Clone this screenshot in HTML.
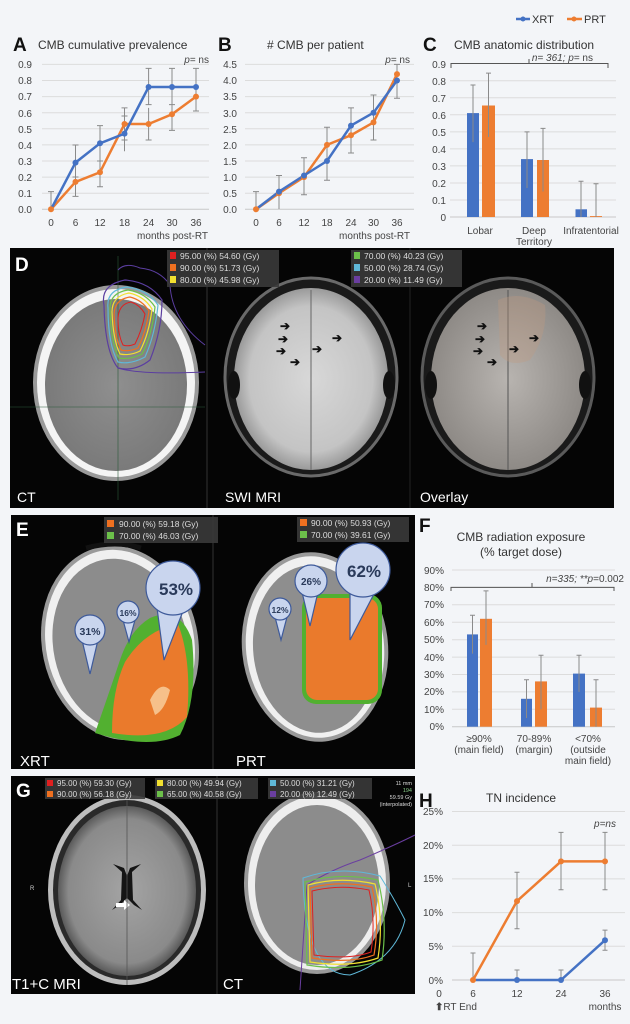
<!DOCTYPE html>
<html><head><meta charset="utf-8"><style>
html,body{margin:0;padding:0;background:#f3f5f8;}
svg{display:block;font-family:"Liberation Sans",Arial,sans-serif;}
</style></head><body>
<svg width="630" height="1024" viewBox="0 0 630 1024" xmlns="http://www.w3.org/2000/svg">
<defs>
<radialGradient id="ctb" cx="50%" cy="50%" r="50%"><stop offset="0" stop-color="#8f8f8f"/><stop offset="1" stop-color="#7a7a7a"/></radialGradient>
<radialGradient id="swi" cx="50%" cy="50%" r="50%"><stop offset="0" stop-color="#d8d8d8"/><stop offset="0.8" stop-color="#c4c4c4"/><stop offset="1" stop-color="#9a9a9a"/></radialGradient>
<radialGradient id="ovl" cx="50%" cy="50%" r="50%"><stop offset="0" stop-color="#b8b4b0"/><stop offset="1" stop-color="#8e8a86"/></radialGradient>
<radialGradient id="t1" cx="50%" cy="50%" r="50%"><stop offset="0" stop-color="#a4a4a4"/><stop offset="0.85" stop-color="#8a8a8a"/><stop offset="1" stop-color="#5a5a5a"/></radialGradient>
</defs>
<rect width="630" height="1024" fill="#f3f5f8"/>

<!-- Legend -->
<line x1="516" y1="19" x2="530" y2="19" stroke="#4472c4" stroke-width="2.5"/><circle cx="523" cy="19" r="2.5" fill="#4472c4"/>
<text x="532" y="23" font-size="11" fill="#333">XRT</text>
<line x1="567" y1="19" x2="582" y2="19" stroke="#ed7d31" stroke-width="2.5"/><circle cx="574" cy="19" r="2.5" fill="#ed7d31"/>
<text x="584" y="23" font-size="11" fill="#333">PRT</text>

<!-- Chart A -->
<text x="13" y="51" font-size="19" font-weight="bold" fill="#111">A</text>
<text x="38" y="49" font-size="12" fill="#333">CMB cumulative prevalence</text>
<g stroke="#dcdcdc" stroke-width="1">
<line x1="42" x2="209" y1="193.2" y2="193.2"/><line x1="42" x2="209" y1="177.1" y2="177.1"/><line x1="42" x2="209" y1="161" y2="161"/><line x1="42" x2="209" y1="144.9" y2="144.9"/><line x1="42" x2="209" y1="128.8" y2="128.8"/><line x1="42" x2="209" y1="112.7" y2="112.7"/><line x1="42" x2="209" y1="96.6" y2="96.6"/><line x1="42" x2="209" y1="80.5" y2="80.5"/><line x1="42" x2="209" y1="64.4" y2="64.4"/>
</g>
<line x1="42" x2="209" y1="209.3" y2="209.3" stroke="#c8c8c8"/>
<g font-size="10" fill="#444" text-anchor="end">
<text x="32" y="213">0.0</text><text x="32" y="197">0.1</text><text x="32" y="181">0.2</text><text x="32" y="165">0.3</text><text x="32" y="149">0.4</text><text x="32" y="133">0.5</text><text x="32" y="117">0.6</text><text x="32" y="100">0.7</text><text x="32" y="84">0.8</text><text x="32" y="68">0.9</text>
</g>
<g font-size="10" fill="#444" text-anchor="middle">
<text x="51" y="226">0</text><text x="75.5" y="226">6</text><text x="100" y="226">12</text><text x="124.5" y="226">18</text><text x="148.6" y="226">24</text><text x="172" y="226">30</text><text x="196" y="226">36</text>
</g>
<text x="208" y="239" font-size="10" fill="#444" text-anchor="end">months post-RT</text>
<text x="209" y="63" font-size="10" fill="#444" text-anchor="end"><tspan font-style="italic">p</tspan>= ns</text>
<g stroke="#8a8a8a" stroke-width="1">
<path d="M51 209V191.6M48 191.6h6M75.5 177V145M72.5 145h6M72.5 177h6M100 161V125.6M97 125.6h6M97 161h6M124.5 151.3V116M121.5 116h6M148.6 104.6V68.4M145.6 68.4h6M145.6 104.6h6M172 104.6V68.4M169 68.4h6M169 104.6h6M196 104.6V68.4M193 68.4h6"/>
<path d="M75.5 196.4V165.8M72.5 196.4h6M100 186.8V156.2M97 186.8h6M124.5 140V107.9M121.5 107.9h6M121.5 140h6M148.6 140V107.9M145.6 140h6M172 130.4V99.8M169 130.4h6M196 111V80.5M193 111h6"/>
</g>
<polyline points="51,209.3 75.5,181.9 100,172.3 124.5,124 148.6,124 172,114.3 196,96.6" fill="none" stroke="#ed7d31" stroke-width="2.5"/>
<polyline points="51,209.3 75.5,162.6 100,143.3 124.5,133.6 148.6,87 172,87 196,87" fill="none" stroke="#4472c4" stroke-width="2.5"/>
<g fill="#ed7d31"><circle cx="51" cy="209.3" r="3"/><circle cx="75.5" cy="181.9" r="3"/><circle cx="100" cy="172.3" r="3"/><circle cx="124.5" cy="124" r="3"/><circle cx="148.6" cy="124" r="3"/><circle cx="172" cy="114.3" r="3"/><circle cx="196" cy="96.6" r="3"/></g>
<g fill="#4472c4"><circle cx="75.5" cy="162.6" r="3"/><circle cx="100" cy="143.3" r="3"/><circle cx="124.5" cy="133.6" r="3"/><circle cx="148.6" cy="87" r="3"/><circle cx="172" cy="87" r="3"/><circle cx="196" cy="87" r="3"/></g>

<!-- Chart B -->
<text x="218" y="51" font-size="19" font-weight="bold" fill="#111">B</text>
<text x="267" y="49" font-size="12" fill="#333"># CMB per patient</text>
<g stroke="#dcdcdc" stroke-width="1">
<line x1="245" x2="414" y1="193.2" y2="193.2"/><line x1="245" x2="414" y1="177.1" y2="177.1"/><line x1="245" x2="414" y1="161" y2="161"/><line x1="245" x2="414" y1="144.9" y2="144.9"/><line x1="245" x2="414" y1="128.8" y2="128.8"/><line x1="245" x2="414" y1="112.7" y2="112.7"/><line x1="245" x2="414" y1="96.6" y2="96.6"/><line x1="245" x2="414" y1="80.5" y2="80.5"/><line x1="245" x2="414" y1="64.4" y2="64.4"/>
</g>
<line x1="245" x2="414" y1="209.3" y2="209.3" stroke="#c8c8c8"/>
<g font-size="10" fill="#444" text-anchor="end">
<text x="237" y="213">0.0</text><text x="237" y="197">0.5</text><text x="237" y="181">1.0</text><text x="237" y="165">1.5</text><text x="237" y="149">2.0</text><text x="237" y="133">2.5</text><text x="237" y="117">3.0</text><text x="237" y="100">3.5</text><text x="237" y="84">4.0</text><text x="237" y="68">4.5</text>
</g>
<g font-size="10" fill="#444" text-anchor="middle">
<text x="256" y="226">0</text><text x="279" y="226">6</text><text x="304" y="226">12</text><text x="327" y="226">18</text><text x="351" y="226">24</text><text x="373.5" y="226">30</text><text x="397" y="226">36</text>
</g>
<text x="410" y="239" font-size="10" fill="#444" text-anchor="end">months post-RT</text>
<text x="410" y="63" font-size="10" fill="#444" text-anchor="end"><tspan font-style="italic">p</tspan>= ns</text>
<g stroke="#8a8a8a" stroke-width="1">
<path d="M256 209V191.6M253 191.6h6M279 209V175.5M276 175.5h6M304 194.8V157.8M301 157.8h6M301 194.8h6M327 180.3V127.2M324 127.2h6M324 180.3h6M351 153V107.9M348 107.9h6M348 153h6M373.5 140V95M370.5 95h6M370.5 140h6M397 98.2V64.4M394 64.4h6M394 98.2h6"/>
</g>
<polyline points="256,209.3 279,193.2 304,177.1 327,144.9 351,135.2 373.5,122.4 397,74.1" fill="none" stroke="#ed7d31" stroke-width="2.5"/>
<polyline points="256,209.3 279,191.6 304,175.5 327,161 351,125.6 373.5,112.7 397,80.5" fill="none" stroke="#4472c4" stroke-width="2.5"/>
<g fill="#ed7d31"><circle cx="256" cy="209.3" r="3"/><circle cx="279" cy="193.2" r="3"/><circle cx="304" cy="177.1" r="3"/><circle cx="327" cy="144.9" r="3"/><circle cx="351" cy="135.2" r="3"/><circle cx="373.5" cy="122.4" r="3"/><circle cx="397" cy="74.1" r="3"/></g>
<g fill="#4472c4"><circle cx="279" cy="191.6" r="3"/><circle cx="304" cy="175.5" r="3"/><circle cx="327" cy="161" r="3"/><circle cx="351" cy="125.6" r="3"/><circle cx="373.5" cy="112.7" r="3"/><circle cx="397" cy="80.5" r="3"/></g>

<!-- Chart C -->
<text x="423" y="51" font-size="19" font-weight="bold" fill="#111">C</text>
<text x="454" y="49" font-size="12" fill="#333">CMB anatomic distribution</text>
<g stroke="#dcdcdc" stroke-width="1">
<line x1="450" x2="616" y1="200" y2="200"/><line x1="450" x2="616" y1="183" y2="183"/><line x1="450" x2="616" y1="165.9" y2="165.9"/><line x1="450" x2="616" y1="148.9" y2="148.9"/><line x1="450" x2="616" y1="131.9" y2="131.9"/><line x1="450" x2="616" y1="114.8" y2="114.8"/><line x1="450" x2="616" y1="97.8" y2="97.8"/><line x1="450" x2="616" y1="80.8" y2="80.8"/>
</g>
<line x1="450" x2="616" y1="217" y2="217" stroke="#c8c8c8"/>
<g font-size="10" fill="#444" text-anchor="end">
<text x="446" y="221">0</text><text x="446" y="204">0.1</text><text x="446" y="187">0.2</text><text x="446" y="170">0.3</text><text x="446" y="153">0.4</text><text x="446" y="136">0.5</text><text x="446" y="119">0.6</text><text x="446" y="102">0.7</text><text x="446" y="85">0.8</text><text x="446" y="68">0.9</text>
</g>
<path d="M451 68V63.5H608V68M529 63.5V59" fill="none" stroke="#555" stroke-width="1"/>
<text x="593" y="61" font-size="10" fill="#444" text-anchor="end" font-style="italic">n= 361; p<tspan font-style="normal">= ns</tspan></text>
<g fill="#4472c4"><rect x="467" y="113.1" width="12" height="103.9"/><rect x="521" y="159.1" width="12" height="57.9"/><rect x="575.5" y="209.3" width="11.5" height="7.7"/></g>
<g fill="#ed7d31"><rect x="482" y="105.5" width="13" height="111.5"/><rect x="537" y="160" width="12" height="57"/><rect x="590" y="216.1" width="12" height="0.9"/></g>
<g stroke="#8a8a8a" stroke-width="1">
<path d="M473 142.1V85M470.5 85h5M488.5 137V73.1M486 73.1h5M527 188V131.9M524.5 131.9h5M543 191.5V128.4M540.5 128.4h5M581 217V181.2M578.5 181.2h5M596 217V183.8M593.5 183.8h5"/>
</g>
<g font-size="10" fill="#444" text-anchor="middle">
<text x="480" y="234">Lobar</text><text x="534" y="234">Deep</text><text x="534" y="245">Territory</text><text x="591" y="234">Infratentorial</text>
</g>

<!-- Panel D -->
<rect x="10" y="248" width="604" height="260" fill="#050505"/>
<line x1="207" y1="248" x2="207" y2="508" stroke="#333"/>
<line x1="410" y1="248" x2="410" y2="508" stroke="#222"/>
<!-- CT -->
<ellipse cx="116" cy="383" rx="83" ry="98" fill="#9a9a9a"/>
<ellipse cx="116" cy="383" rx="79" ry="94" fill="#f4f4f4"/>
<ellipse cx="116" cy="385" rx="71" ry="86" fill="url(#ctb)"/>
<line x1="10" y1="407" x2="205" y2="407" stroke="#2a5a3a" stroke-width="0.6"/>
<path d="M118 256V500" stroke="#2a5a3a" stroke-width="0.6"/>
<path d="M104 305 Q100 285 125 280 Q150 282 162 300 Q162 330 150 360 Q135 372 118 368 Q105 352 104 305Z" fill="none" stroke="#5b3ea0" stroke-width="1.2"/>
<path d="M108 308 Q106 290 127 287 Q148 290 158 305 Q155 335 145 357 Q130 365 118 362 Q108 345 108 308Z" fill="none" stroke="#5fb8d8" stroke-width="1.2"/>
<path d="M110 310 Q109 293 128 290 Q146 293 155 307 Q152 335 142 354 Q130 360 119 358 Q111 343 110 310Z" fill="none" stroke="#6cc04a" stroke-width="1.2"/>
<path d="M112 312 Q112 296 129 293 Q144 296 152 309 Q149 334 140 351 Q130 356 120 354 Q113 340 112 312Z" fill="none" stroke="#f2e030" stroke-width="1.2"/>
<path d="M114 314 Q115 299 130 297 Q142 300 149 311 Q146 332 138 348 Q129 352 121 350 Q115 338 114 314Z" fill="none" stroke="#ef7020" stroke-width="1.2"/>
<path d="M118 318 Q119 304 131 302 Q140 305 145 314 Q142 330 135 344 Q128 347 123 345 Q118 335 118 318Z" fill="none" stroke="#e02020" stroke-width="1"/>
<path d="M118 270 Q125 262 140 268 Q160 270 170 285 Q172 320 205 345 M118 368 Q140 375 205 372" fill="none" stroke="#5b3ea0" stroke-width="1"/>
<!-- SWI -->
<ellipse cx="311" cy="377" rx="86" ry="99" fill="#1a1a1a" stroke="#6a6a6a" stroke-width="3"/>
<ellipse cx="311" cy="379" rx="77" ry="91" fill="url(#swi)"/>
<line x1="311" y1="290" x2="311" y2="470" stroke="#666" stroke-width="1"/>
<ellipse cx="234" cy="385" rx="6" ry="14" fill="#111"/><ellipse cx="389" cy="385" rx="6" ry="14" fill="#111"/>
<g fill="#111" font-size="12" font-weight="bold">
<text x="280" y="330">➔</text><text x="278" y="343">➔</text><text x="276" y="355">➔</text><text x="290" y="366">➔</text><text x="332" y="342">➔</text><text x="312" y="353">➔</text>
</g>
<!-- Overlay -->
<ellipse cx="508" cy="377" rx="86" ry="99" fill="#1a1a1a" stroke="#5a5a5a" stroke-width="3"/>
<ellipse cx="508" cy="379" rx="77" ry="91" fill="url(#ovl)"/>
<line x1="508" y1="290" x2="508" y2="470" stroke="#555" stroke-width="1"/>
<path d="M498 300 Q520 290 545 305 Q548 335 530 360 Q510 368 500 355Z" fill="#c09a80" opacity="0.35"/>
<ellipse cx="431" cy="385" rx="6" ry="14" fill="#111"/><ellipse cx="585" cy="385" rx="6" ry="14" fill="#111"/>
<g fill="#111" font-size="12" font-weight="bold">
<text x="477" y="330">➔</text><text x="475" y="343">➔</text><text x="473" y="355">➔</text><text x="487" y="366">➔</text><text x="529" y="342">➔</text><text x="509" y="353">➔</text>
</g>
<text x="15" y="271" font-size="19" font-weight="bold" fill="#fff">D</text>
<g font-size="14" fill="#fff"><text x="17" y="502">CT</text><text x="225" y="502">SWI MRI</text><text x="420" y="502">Overlay</text></g>
<rect x="167" y="250" width="112" height="37" fill="#3a3a3a" opacity="0.9"/>
<g font-size="8.5" fill="#ddd">
<rect x="170" y="252" width="6" height="7" fill="#e02020"/><text x="180" y="259">95.00 (%)  54.60 (Gy)</text>
<rect x="170" y="264" width="6" height="7" fill="#ef7020"/><text x="180" y="271">90.00 (%)  51.73 (Gy)</text>
<rect x="170" y="276" width="6" height="7" fill="#f2e030"/><text x="180" y="283">80.00 (%)  45.98 (Gy)</text>
</g>
<rect x="351" y="250" width="111" height="37" fill="#3a3a3a" opacity="0.9"/>
<g font-size="8.5" fill="#ddd">
<rect x="354" y="252" width="6" height="7" fill="#6cc04a"/><text x="364" y="259">70.00 (%)  40.23 (Gy)</text>
<rect x="354" y="264" width="6" height="7" fill="#5fb8d8"/><text x="364" y="271">50.00 (%)  28.74 (Gy)</text>
<rect x="354" y="276" width="6" height="7" fill="#6a3ea0"/><text x="364" y="283">20.00 (%)  11.49 (Gy)</text>
</g>

<!-- Panel E -->
<rect x="11" y="515" width="404" height="254" fill="#050505"/>
<line x1="213" y1="515" x2="213" y2="769" stroke="#333"/>
<g transform="rotate(-12 120 643)">
<ellipse cx="120" cy="643" rx="78" ry="98" fill="#9a9a9a"/>
<ellipse cx="120" cy="643" rx="74" ry="94" fill="#f0f0f0"/>
<ellipse cx="120" cy="645" rx="67" ry="87" fill="#8c8c8c"/>
</g>
<path d="M95 733 Q110 690 120 660 Q130 630 150 618 Q180 605 192 640 Q198 700 180 735 Q150 750 95 733Z" fill="#52b030"/>
<path d="M112 733 Q112 690 125 662 Q145 630 178 624 Q192 660 187 717 Q165 742 112 733Z" fill="#ea7a2c"/>
<path d="M150 700 Q160 680 170 690 Q165 710 155 715Z" fill="#f6c08a"/>
<path d="M86 548 q30 -8 55 0" stroke="#111" stroke-width="5" fill="none"/>
<g transform="rotate(-6 315 647)">
<ellipse cx="315" cy="647" rx="73" ry="95" fill="#9a9a9a"/>
<ellipse cx="315" cy="647" rx="69" ry="91" fill="#f0f0f0"/>
<ellipse cx="315" cy="649" rx="62" ry="84" fill="#8e8e8e"/>
</g>
<rect x="302" y="594" width="80" height="110" rx="14" fill="#52b030"/>
<rect x="306" y="598" width="72" height="102" rx="11" fill="#ea7a2c"/>
<!-- bubbles -->
<g fill="#c9d5ee" stroke="#3e5a9a" stroke-width="1.2">
<path d="M157 608 L164 660 L185 606Z"/><circle cx="173" cy="588" r="27"/>
<path d="M123 620 L129 642 L135 620Z"/><circle cx="128" cy="612" r="11"/>
<path d="M82 640 L90 674 L98 640Z"/><circle cx="90" cy="630" r="15"/>
<path d="M350 590 L350 640 L375 592Z"/><circle cx="363" cy="570" r="27"/>
<path d="M302 592 L310 626 L318 592Z"/><circle cx="311" cy="581" r="16"/>
<path d="M275 617 L281 640 L287 617Z"/><circle cx="280" cy="609" r="11"/>
</g>
<g fill="#2a3a5a" font-weight="bold" text-anchor="middle">
<text x="176" y="595" font-size="17">53%</text><text x="128" y="616" font-size="8.5">16%</text><text x="90" y="635" font-size="10.5">31%</text>
<text x="364" y="577" font-size="17">62%</text><text x="311" y="585" font-size="10">26%</text><text x="280" y="613" font-size="8.5">12%</text>
</g>
<text x="16" y="536" font-size="19" font-weight="bold" fill="#fff">E</text>
<g font-size="15" fill="#fff"><text x="20" y="766">XRT</text><text x="236" y="766">PRT</text></g>
<rect x="104" y="517" width="114" height="26" fill="#3a3a3a" opacity="0.9"/>
<g font-size="8.5" fill="#ddd">
<rect x="107" y="520" width="7" height="7" fill="#ef7020"/><text x="119" y="527">90.00 (%)  59.18 (Gy)</text>
<rect x="107" y="532" width="7" height="7" fill="#6cc04a"/><text x="119" y="539">70.00 (%)  46.03 (Gy)</text>
</g>
<rect x="297" y="517" width="112" height="25" fill="#3a3a3a" opacity="0.9"/>
<g font-size="8.5" fill="#ddd">
<rect x="300" y="519" width="7" height="7" fill="#ef7020"/><text x="311" y="526">90.00 (%)  50.93 (Gy)</text>
<rect x="300" y="531" width="7" height="7" fill="#6cc04a"/><text x="311" y="538">70.00 (%)  39.61 (Gy)</text>
</g>

<!-- Panel G -->
<rect x="11" y="776" width="404" height="218" fill="#050505"/>
<line x1="217" y1="776" x2="217" y2="994" stroke="#333"/>
<ellipse cx="127" cy="890" rx="79" ry="95" fill="#bdbdbd"/>
<ellipse cx="127" cy="890" rx="74" ry="90" fill="#2a2a2a"/>
<ellipse cx="127" cy="891" rx="69" ry="85" fill="url(#t1)"/>
<path d="M113 864 L122 872 L121 900 L112 910 L120 905 L127 898 L134 905 L142 910 L133 900 L132 872 L141 864 L130 868 L127 876 L124 868Z" fill="#151515"/>
<path d="M116 903 h8 v-3 l6 5 l-6 5 v-3 h-8z" fill="#fff"/>
<line x1="127" y1="800" x2="127" y2="985" stroke="#555" stroke-width="0.8"/>
<ellipse cx="317" cy="883" rx="73" ry="91" fill="#9a9a9a"/>
<ellipse cx="317" cy="883" rx="69" ry="87" fill="#eeeeee"/>
<ellipse cx="317" cy="885" rx="62" ry="80" fill="#8c8c8c"/>
<path d="M300 990 L307 885 Q330 870 360 860 Q395 845 415 835" fill="none" stroke="#6a3ea0" stroke-width="1"/>
<path d="M303 878 Q340 865 380 876 Q395 900 405 920 Q395 960 350 975 Q305 975 303 878Z" fill="none" stroke="#5fb8d8" stroke-width="1"/>
<path d="M305 882 Q340 872 378 880 Q388 920 382 960 Q350 972 307 965Z" fill="none" stroke="#6cc04a" stroke-width="1.2"/>
<path d="M308 885 Q340 876 375 884 Q384 920 378 958 Q350 968 310 962Z" fill="none" stroke="#f2e030" stroke-width="1.2"/>
<path d="M310 888 Q340 880 372 887 Q380 920 374 955 Q350 964 312 958Z" fill="none" stroke="#ef7020" stroke-width="1.2"/>
<path d="M312 891 Q340 884 369 890 Q376 920 371 952 Q350 960 314 955Z" fill="none" stroke="#e02020" stroke-width="1"/>
<text x="16" y="797" font-size="19" font-weight="bold" fill="#fff">G</text>
<g font-size="15" fill="#fff"><text x="12" y="989">T1+C MRI</text><text x="223" y="989">CT</text></g>
<rect x="45" y="778" width="100" height="21" fill="#3a3a3a" opacity="0.9"/>
<rect x="155" y="778" width="103" height="21" fill="#3a3a3a" opacity="0.9"/>
<rect x="268" y="778" width="104" height="21" fill="#3a3a3a" opacity="0.9"/>
<g font-size="8" fill="#ddd">
<rect x="47" y="780" width="6" height="6" fill="#e02020"/><text x="57" y="786">95.00 (%)  59.30 (Gy)</text>
<rect x="47" y="791" width="6" height="6" fill="#ef7020"/><text x="57" y="797">90.00 (%)  56.18 (Gy)</text>
<rect x="157" y="780" width="6" height="6" fill="#f2e030"/><text x="167" y="786">80.00 (%)  49.94 (Gy)</text>
<rect x="157" y="791" width="6" height="6" fill="#6cc04a"/><text x="167" y="797">65.00 (%)  40.58 (Gy)</text>
<rect x="270" y="780" width="6" height="6" fill="#5fb8d8"/><text x="280" y="786">50.00 (%)  31.21 (Gy)</text>
<rect x="270" y="791" width="6" height="6" fill="#6a3ea0"/><text x="280" y="797">20.00 (%)  12.49 (Gy)</text>
</g>
<g font-size="5.5" fill="#ddd" text-anchor="end"><text x="412" y="785">11 mm</text><text x="412" y="792" fill="#8c8">194</text><text x="412" y="799">59.59 Gy</text><text x="412" y="806">(interpolated)</text></g>
<text x="30" y="890" font-size="6" fill="#ccc">R</text><text x="408" y="887" font-size="6" fill="#ccc">L</text>

<!-- Chart F -->
<text x="419" y="532" font-size="19" font-weight="bold" fill="#111">F</text>
<text x="521" y="541" font-size="12" fill="#333" text-anchor="middle">CMB radiation exposure</text>
<text x="521" y="556" font-size="12" fill="#333" text-anchor="middle">(% target dose)</text>
<g stroke="#dcdcdc" stroke-width="1">
<line x1="452" x2="615" y1="709.3" y2="709.3"/><line x1="452" x2="615" y1="691.9" y2="691.9"/><line x1="452" x2="615" y1="674.5" y2="674.5"/><line x1="452" x2="615" y1="657.1" y2="657.1"/><line x1="452" x2="615" y1="639.7" y2="639.7"/><line x1="452" x2="615" y1="622.3" y2="622.3"/><line x1="452" x2="615" y1="604.8" y2="604.8"/><line x1="452" x2="615" y1="587.4" y2="587.4"/><line x1="452" x2="615" y1="570" y2="570"/>
</g>
<line x1="452" x2="615" y1="726.7" y2="726.7" stroke="#c8c8c8"/>
<g font-size="10" fill="#444" text-anchor="end">
<text x="444" y="730">0%</text><text x="444" y="713">10%</text><text x="444" y="695">20%</text><text x="444" y="678">30%</text><text x="444" y="661">40%</text><text x="444" y="643">50%</text><text x="444" y="626">60%</text><text x="444" y="608">70%</text><text x="444" y="591">80%</text><text x="444" y="574">90%</text>
</g>
<path d="M451 591V587.4H614V591M532 587.4V583" fill="none" stroke="#555"/>
<text x="624" y="582" font-size="10" fill="#444" text-anchor="end" font-style="italic">n=335; **p<tspan font-style="normal">=0.002</tspan></text>
<g fill="#4472c4"><rect x="467" y="634.4" width="11" height="92.3"/><rect x="521" y="698.8" width="11" height="27.9"/><rect x="573" y="673.6" width="12" height="53.1"/></g>
<g fill="#ed7d31"><rect x="480" y="618.8" width="12" height="107.9"/><rect x="535" y="681.4" width="12" height="45.3"/><rect x="590" y="707.6" width="12" height="19.1"/></g>
<g stroke="#8a8a8a" stroke-width="1">
<path d="M472.5 653.6V615.3M470 615.3h5M486 644.9V590.9M483.5 590.9h5M526.5 718V679.7M524 679.7h5M541 709.3V655.3M538.5 655.3h5M579 691.9V655.3M576.5 655.3h5M596 726.7V679.7M593.5 679.7h5"/>
</g>
<g font-size="10" fill="#444" text-anchor="middle">
<text x="479" y="742">≥90%</text><text x="479" y="753">(main field)</text>
<text x="534" y="742">70-89%</text><text x="534" y="753">(margin)</text>
<text x="588" y="742">&lt;70%</text><text x="588" y="753">(outside</text><text x="588" y="764">main field)</text>
</g>

<!-- Chart H -->
<text x="419" y="807" font-size="19" font-weight="bold" fill="#111">H</text>
<text x="521" y="802" font-size="12" fill="#333" text-anchor="middle">TN incidence</text>
<g stroke="#dcdcdc" stroke-width="1">
<line x1="452" x2="625" y1="946.3" y2="946.3"/><line x1="452" x2="625" y1="912.6" y2="912.6"/><line x1="452" x2="625" y1="878.9" y2="878.9"/><line x1="452" x2="625" y1="845.2" y2="845.2"/><line x1="452" x2="625" y1="811.5" y2="811.5"/>
</g>
<line x1="452" x2="625" y1="980" y2="980" stroke="#c8c8c8"/>
<g font-size="10" fill="#444" text-anchor="end">
<text x="443" y="984">0%</text><text x="443" y="950">5%</text><text x="443" y="916">10%</text><text x="443" y="882">15%</text><text x="443" y="849">20%</text><text x="443" y="815">25%</text>
</g>
<text x="616" y="827" font-size="10" fill="#444" text-anchor="end" font-style="italic">p=ns</text>
<g stroke="#8a8a8a" stroke-width="1">
<path d="M473 980V953M470.5 953h5M517 928.8V872.2M514.5 872.2h5M514.5 928.8h5M561 889.7V832.4M558.5 832.4h5M558.5 889.7h5M605 889.7V832.4M602.5 832.4h5M602.5 889.7h5"/>
<path d="M517 980V970M514.5 970h5M561 980V970M558.5 970h5M605 950.3V930.1M602.5 930.1h5M602.5 950.3h5"/>
</g>
<polyline points="473,980 517,980 561,980 605,940.2" fill="none" stroke="#4472c4" stroke-width="2.5"/>
<polyline points="473,980 517,901.1 561,861.4 605,861.4" fill="none" stroke="#ed7d31" stroke-width="2.5"/>
<g fill="#4472c4"><circle cx="517" cy="980" r="3"/><circle cx="561" cy="980" r="3"/><circle cx="605" cy="940.2" r="3"/></g>
<g fill="#ed7d31"><circle cx="473" cy="980" r="3"/><circle cx="517" cy="901.1" r="3"/><circle cx="561" cy="861.4" r="3"/><circle cx="605" cy="861.4" r="3"/></g>
<g font-size="10" fill="#444" text-anchor="middle">
<text x="439" y="997">0</text><text x="473" y="997">6</text><text x="517" y="997">12</text><text x="561" y="997">24</text><text x="605" y="997">36</text>
<text x="605" y="1010">months</text>
</g>
<text x="435" y="1010" font-size="10" fill="#444"><tspan font-weight="bold">⬆</tspan>RT End</text>
</svg>
</body></html>
